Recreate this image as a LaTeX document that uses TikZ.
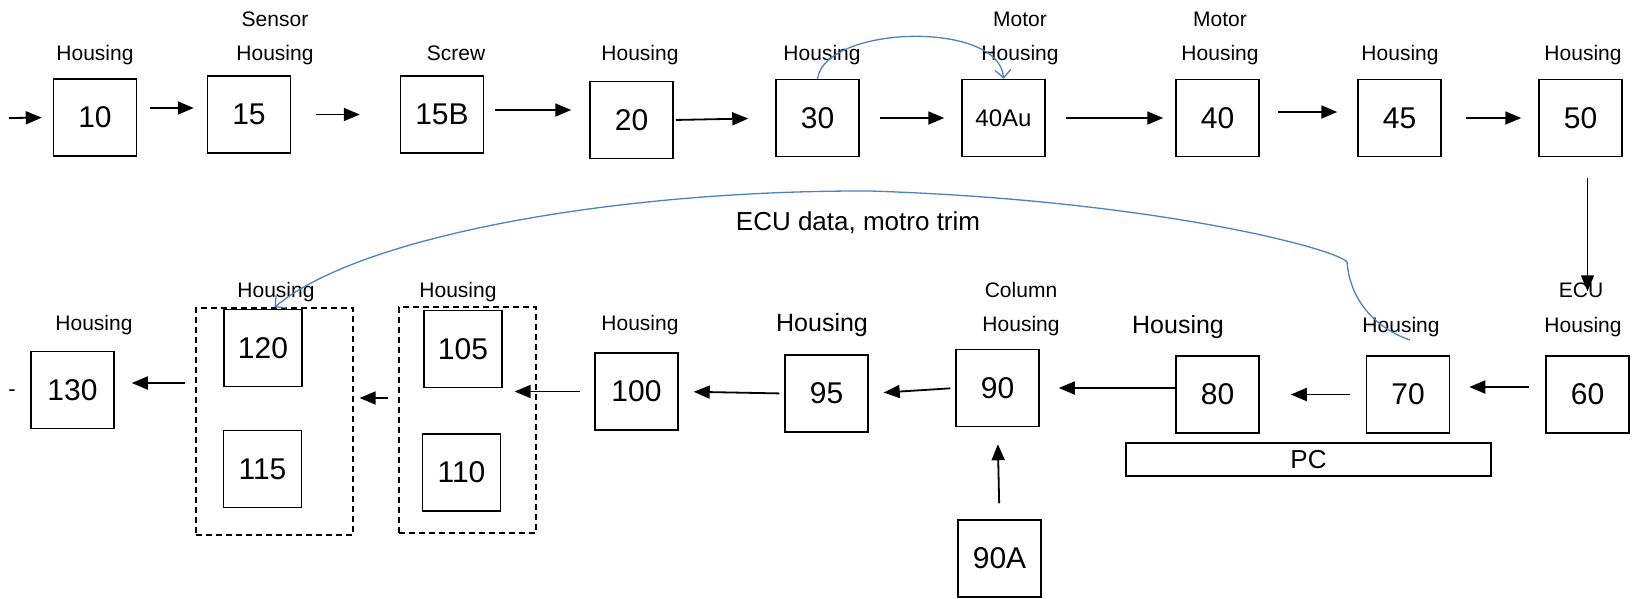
\documentclass[tikz,border=0pt]{standalone}
\usepackage{fontspec}
\setmainfont{Liberation Sans}
\usetikzlibrary{arrows.meta, positioning, calc}
\definecolor{curveblue}{RGB}{79,129,189}

\begin{document}
\begin{tikzpicture}[x=1pt, y=-1pt,
    stn/.style={draw, line width=1.5pt, minimum width=83pt, minimum height=77pt, inner sep=0pt, font=\fontsize{30}{36}\selectfont},
    sub/.style={stn, minimum width=78pt},
    grp/.style={draw, dash pattern=on 6pt off 4pt, line width=1.3pt, inner sep=0pt},
    lbl/.style={anchor=base, inner sep=0pt, font=\fontsize{21}{25}\selectfont},
    biglbl/.style={lbl, font=\fontsize{25}{30}\selectfont},
    arr/.style={-{Triangle[length=16pt, width=13pt]}, line width=1.8pt},
    link/.style={curveblue, line width=1.3pt, -{Straight Barb[length=8pt, width=16pt]}}]
    \useasboundingbox (0,0) rectangle (1632,598);

    % Top row
    \node[stn] (n10) at (95,117.5) {10};
    \node[stn] (n15) at (249,114.5) {15};
    \node[stn] (n15B) at (442,114.5) {15B};
    \node[stn] (n20) at (631.5,120) {20};
    \node[stn] (n30) at (817.5,118) {30};
    \node[stn, font=\fontsize{24}{28}\selectfont] (n40Au) at (1003.5,118) {40Au};
    \node[stn] (n40) at (1217.5,118) {40};
    \node[stn] (n45) at (1399.5,118) {45};
    \node[stn] (n50) at (1580.5,118) {50};

    % Bottom row
    \node[stn] (n60) at (1587.5,394.5) {60};
    \node[stn] (n70) at (1408,394.5) {70};
    \node[stn] (n80) at (1217.5,394.5) {80};
    \node[stn] (n90) at (997.5,388) {90};
    \node[stn] (n90A) at (999.5,558.5) {90A};
    \node[stn] (n95) at (826.5,393.5) {95};
    \node[stn] (n100) at (636.5,391.5) {100};
    \node[sub] (n105) at (463,349) {105};
    \node[sub] (n110) at (461.5,472.5) {110};
    \node[sub] (n120) at (263,348) {120};
    \node[sub] (n115) at (262.5,469) {115};
    \node[stn] (n130) at (72.5,390) {130};

    % Dashed groups and PC bar
    \node[grp, minimum width=137pt, minimum height=226pt] (grpR) at (467.5,420) {};
    \node[grp, minimum width=157pt, minimum height=227pt] (grpL) at (274.5,421.5) {};
    \node[draw, line width=1.5pt, minimum width=365pt, minimum height=33pt, inner sep=0pt,
          font=\fontsize{26}{30}\selectfont] (pc) at (1308.5,459.5) {PC};

    % Labels
    \node[lbl] (l10) at (95,60) {Housing};
    \node[lbl] (l15a) at (275,26) {Sensor};
    \node[lbl] (l15) at (275,60) {Housing};
    \node[lbl] (l15B) at (456,60) {Screw};
    \node[lbl] (l20) at (640,60) {Housing};
    \node[lbl] (l30) at (822,60) {Housing};
    \node[lbl] (l40Aua) at (1020,26) {Motor};
    \node[lbl] (l40Au) at (1020,60) {Housing};
    \node[lbl] (l40a) at (1220,26) {Motor};
    \node[lbl] (l40) at (1220,60) {Housing};
    \node[lbl] (l45) at (1400,60) {Housing};
    \node[lbl] (l50) at (1583,60) {Housing};
    \node[lbl] (l60a) at (1581,297) {ECU};
    \node[lbl] (l60) at (1583,332) {Housing};
    \node[lbl] (l70) at (1401,332) {Housing};
    \node[biglbl] (l80) at (1178,333) {Housing};
    \node[lbl] (l90a) at (1021,297) {Column};
    \node[lbl] (l90) at (1021,331) {Housing};
    \node[biglbl] (l95) at (822,331) {Housing};
    \node[lbl] (l100) at (640,330) {Housing};
    \node[lbl] (l105) at (458,297) {Housing};
    \node[lbl] (l120) at (276,297) {Housing};
    \node[lbl] (l130) at (94,330) {Housing};
    \node[inner sep=0pt, font=\fontsize{22}{25}\selectfont] (dash) at (12,393) {-};
    \node[lbl, font=\fontsize{26}{30}\selectfont] (ecu) at (858,230) {ECU data, motro trim};

    % Arrows along the top row
    \coordinate (in0) at (9,118);
    \draw[arr, shorten >=11pt] (in0) -- (n10.west);
    \draw[arr, shorten <=13pt, shorten >=13pt] ([yshift=9.5pt]n10.east) -- ([yshift=6.5pt]n15.west);
    \draw[arr, shorten <=25pt, shorten >=40pt] (n15.east) -- (n15B.west);
    \draw[arr, shorten <=11pt, shorten >=18pt] ([yshift=4.5pt]n15B.east) -- ([yshift=10pt]n20.west);
    \draw[arr, shorten <=2pt, shorten >=27pt] (n20.east) -- (n30.west);
    \draw[arr, shorten <=20pt, shorten >=17pt] (n30.east) -- (n40Au.west);
    \draw[arr, shorten <=20pt, shorten >=12pt] (n40Au.east) -- (n40.west);
    \draw[arr, shorten <=18pt, shorten >=20pt] ([yshift=6pt]n40.east) -- ([yshift=6pt]n45.west);
    \draw[arr, shorten <=24pt, shorten >=17pt] (n45.east) -- (n50.west);

    % Down to the bottom row, then leftwards
    \draw[arr, shorten <=21pt, shorten >=64pt] (n50.south -| n60.north) -- (n60.north);
    \draw[arr, shorten <=16pt, shorten >=19pt] ([yshift=7.5pt]n60.west) -- ([yshift=7.5pt]n70.east);
    \draw[arr, shorten <=16pt, shorten >=31pt] (n70.west) -- (n80.east);
    \draw[arr, shorten >=19pt] ([yshift=6.5pt]n80.west) -- (n90.east);
    \draw[arr, shorten <=16pt, shorten >=17pt] (n90A.north) -- (n90.south);
    \draw[arr, shorten <=5pt, shorten >=15pt] (n90.west) -- (n95.east);
    \draw[arr, shorten <=5pt, shorten >=15pt] (n95.west) -- (n100.east);
    \draw[arr, shorten <=14pt, shorten >=-22pt] (n100.west) -- (n100.west -| grpR.east);
    \draw[arr, shorten <=10pt, shorten >=6pt] ([yshift=22pt]grpR.west) -- ([yshift=23.5pt]grpL.east);
    \draw[arr, shorten <=10pt, shorten >=17pt] ([yshift=38.5pt]grpL.west) -- ([yshift=7pt]n130.east);

    % Blue links
    \draw[link] (n30.north) .. controls (825,25) and (1000,20) .. (n40Au.north);
    \coordinate (ecuStart) at (1410,340);
    \draw[link] (ecuStart) .. controls (1375,328) and (1350,300) .. (1347,262)
        .. controls (1335,248) and (1150,200) .. (870,191)
        .. controls (620,190) and (360,235) .. (grpL.north);
\end{tikzpicture}
\end{document}
